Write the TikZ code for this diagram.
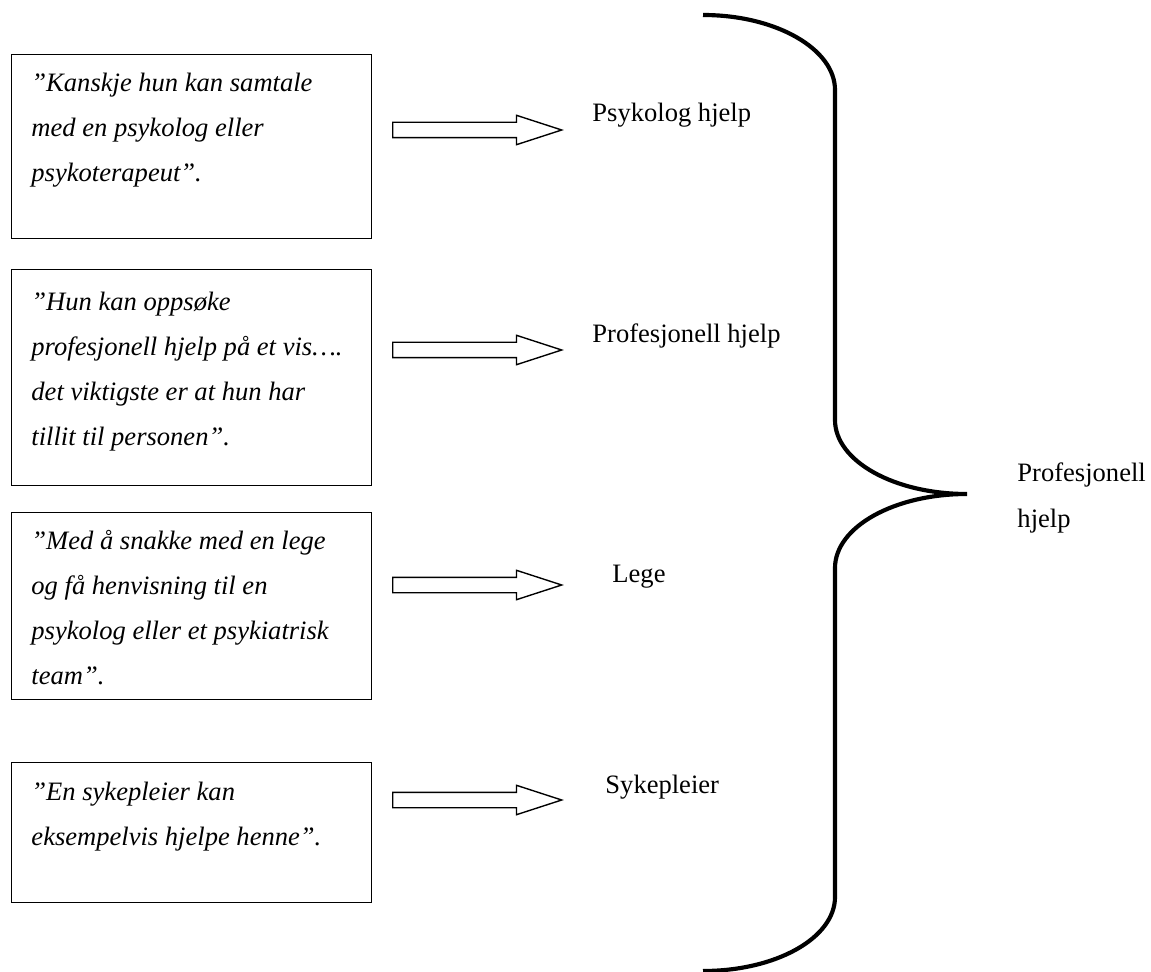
\documentclass[tikz,border=0pt]{standalone}
\usepackage{fontspec}
\setmainfont{Liberation Serif}
\usetikzlibrary{shapes.arrows}

\newcommand{\pxu}{0.433pt}

\tikzset{
  quotebox/.style={draw, line width=0.6pt, inner sep=0pt, minimum width=360*\pxu, anchor=north west},
  quotetext/.style={font=\itshape\fontsize{11.5}{19.5}\selectfont, align=left, inner sep=0pt, anchor=north west},
  fatarrow/.style={draw, line width=0.6pt, single arrow, single arrow head extend=7*\pxu,
    single arrow tip angle=36, single arrow head indent=0pt, inner xsep=0pt, inner ysep=7*\pxu,
    minimum height=169*\pxu, minimum width=0pt, text height=0pt, text depth=0pt, anchor=tail},
  answer/.style={font=\fontsize{11.5}{20.3}\selectfont, align=left, inner sep=0pt, anchor=west},
}

\begin{document}
\begin{tikzpicture}[x=\pxu, y=-\pxu]
\useasboundingbox (0,0) rectangle (1151,972);

% quote boxes
\node[quotebox, minimum height=184*\pxu] (B1) at (11,54) {};
\node[quotebox, minimum height=216*\pxu] (B2) at (11,269) {};
\node[quotebox, minimum height=187*\pxu] (B3) at (11,512) {};
\node[quotebox, minimum height=140*\pxu] (B4) at (11,762) {};

\node[quotetext] (Q1) at (31,73)  {”Kanskje hun kan samtale\\med en psykolog eller\\psykoterapeut”.};
\node[quotetext] (Q2) at (31,292) {”Hun kan oppsøke\\profesjonell hjelp på et vis….\\det viktigste er at hun har\\tillit til personen”.};
\node[quotetext] (Q3) at (31,530) {”Med å snakke med en lege\\og få henvisning til en\\psykolog eller et psykiatrisk\\team”.};
\node[quotetext] (Q4) at (31,782) {”En sykepleier kan\\eksempelvis hjelpe henne”.};

% block arrows
\node[fatarrow] (A1) at (392,130) {};
\node[fatarrow] (A2) at (392,350) {};
\node[fatarrow] (A3) at (392,585) {};
\node[fatarrow] (A4) at (392,800) {};

% answers
\node[answer] (L1) at (592,115) {Psykolog hjelp};
\node[answer] (L2) at (592,336) {Profesjonell hjelp};
\node[answer] (L3) at (612,577) {Lege};
\node[answer] (L4) at (605,787) {Sykepleier};

% brace
\coordinate (tip) at (967,494);
\draw[line width=1.8pt] (703,15) .. controls (776,15) and (835,49) .. (835,90) -- (835,420)
  .. controls (835,461) and (894,494) .. (tip)
  .. controls (894,494) and (835,527) .. (835,568) -- (835,897)
  .. controls (835,938) and (776,971) .. (703,971);

\node[answer] (S) at (1017,498) {Profesjonell\\hjelp};
\end{tikzpicture}
\end{document}
